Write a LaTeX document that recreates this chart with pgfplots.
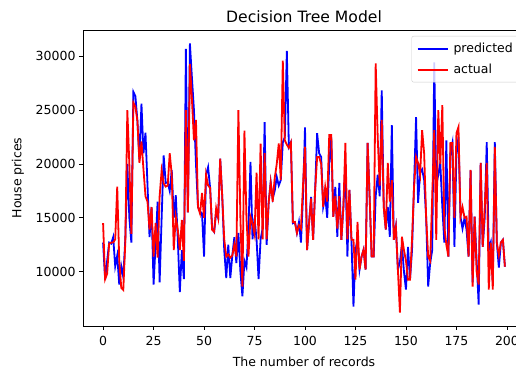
\documentclass[border=0pt]{standalone}
\usepackage{pgfplots}
\pgfplotsset{compat=1.18}
\usepackage{pgfplotstable}
\usepackage{fontspec}
\setmainfont{DejaVu Sans}

\pgfplotstableread[row sep=\\]{
P A\\
12700 14500\\ 9300 9300\\ 11000 9800\\ 12700 12600\\ 12600 12700\\ 13200 12700\\ 10500 13000\\ 11500 17900\\ 8800 11000\\ 10500 8500\\
9500 8300\\ 13000 12700\\ 20000 25000\\ 15000 20000\\ 12700 13500\\ 26700 25700\\ 26300 25300\\ 24000 24000\\ 20400 20100\\ 25600 22100\\
21000 19500\\ 22900 17000\\ 18000 16500\\ 13200 13900\\ 16000 16000\\ 8800 11400\\ 12500 14500\\ 16500 11300\\ 9000 17000\\ 15000 19400\\
20800 18200\\ 18240 17900\\ 18300 18000\\ 17500 21000\\ 19450 19000\\ 15000 12000\\ 17100 15100\\ 13000 13900\\ 8100 12000\\ 12000 14800\\
9300 11000\\ 30700 25000\\ 15500 15500\\ 31200 29300\\ 28000 26000\\ 25000 22200\\ 20000 24100\\ 16000 16000\\ 15600 15400\\ 15400 17300\\
11400 15000\\ 19000 19000\\ 19700 18000\\ 17800 17800\\ 14000 13900\\ 13700 13700\\ 15500 15900\\ 15000 15000\\ 20500 20500\\ 17000 17000\\
12000 13000\\ 9400 11400\\ 12500 11600\\ 9400 11300\\ 11500 11500\\ 13200 12500\\ 10800 11400\\ 13600 25000\\ 10000 15000\\ 7700 8600\\
11000 23100\\ 10400 15000\\ 14000 11400\\ 20200 15100\\ 13000 14500\\ 15000 13500\\ 13000 19200\\ 9300 13000\\ 13000 21900\\ 14000 13000\\
23900 21000\\ 12500 13000\\ 16400 16400\\ 18300 18300\\ 16800 16500\\ 17500 18700\\ 18800 20000\\ 18000 21900\\ 18500 18500\\ 22000 29600\\
22500 22200\\ 30500 21800\\ 21600 21500\\ 22000 22000\\ 14500 14600\\ 14600 14600\\ 13600 13600\\ 14600 14300\\ 12700 14000\\ 17000 18000\\
23400 21600\\ 12000 12000\\ 14500 14500\\ 16950 16800\\ 12960 12960\\ 17500 17500\\ 22870 20650\\ 21000 20650\\ 20650 20000\\ 16020 16020\\
17000 17870\\ 15000 16500\\ 20000 22690\\ 22500 22690\\ 15100 15100\\ 17870 17000\\ 13240 14000\\ 18240 17000\\ 12960 12960\\ 16000 16000\\
20000 21950\\ 11400 13000\\ 17600 17600\\ 12960 12960\\ 6760 12960\\ 12000 9260\\ 13000 14630\\ 10190 10190\\ 11400 11400\\ 12040 12040\\
10190 10190\\ 21950 21950\\ 16950 16950\\ 11400 11400\\ 11400 11400\\ 17000 29350\\ 19000 22500\\ 17000 18000\\ 26850 24100\\ 16020 16000\\
13900 13900\\ 16000 20100\\ 13240 16500\\ 23600 18500\\ 12960 12960\\ 14170 14170\\ 10190 10190\\ 10900 6200\\ 12500 13240\\ 10000 12000\\
8330 11000\\ 12300 9260\\ 9260 9260\\ 12000 13000\\ 18000 17870\\ 24350 20650\\ 16390 20100\\ 19170 19000\\ 19500 23150\\ 18500 21000\\
15000 15000\\ 8610 11400\\ 10830 11000\\ 12000 17000\\ 29450 23150\\ 18000 12960\\ 19000 25000\\ 20100 20000\\ 16000 25460\\ 12700 14170\\
22200 12500\\ 11400 11400\\ 21000 21950\\ 21950 21950\\ 12300 15000\\ 21000 22870\\ 22500 23430\\ 15100 15100\\ 14000 16000\\ 15000 15000\\
13900 15100\\ 11400 11400\\ 19400 19450\\ 9000 8610\\ 15100 15100\\ 11000 10000\\ 6940 8800\\ 20100 20100\\ 12300 12300\\ 15000 16000\\
22040 20100\\ 12000 8330\\ 12700 12700\\ 9000 8330\\ 22040 21580\\ 12700 12700\\ 10370 11500\\ 12700 12700\\ 12960 12960\\ 10460 10460\\
}\datatable

\begin{document}
\begin{tikzpicture}[x=1pt,y=1pt]
\begin{axis}[
  at={(83pt,45pt)}, anchor=south west,
  scale only axis, width=442pt, height=296pt,
  xmin=-9.95, xmax=208.95, ymin=4950, ymax=32450,
  xtick={0,25,...,200},
  ytick={10000,15000,20000,25000,30000},
  scaled y ticks=false,
  yticklabel style={/pgf/number format/.cd, fixed, 1000 sep={}},
  /pgf/number format/assume math mode=true,
  tick align=outside, xtick pos=bottom, ytick pos=left,
  major tick length=4pt,
  tick style={black, line width=0.8pt},
  axis line style={line width=0.8pt},
  ticklabel style={font=\fontsize{12.5}{15}\selectfont},
  xticklabel style={yshift=-3pt},
  title={Decision Tree Model},
  title style={font=\fontsize{15.6}{18}\selectfont, at={(axis description cs:0.5,1.025)}, anchor=center},
  xlabel={The number of records},
  xlabel style={font=\fontsize{12.5}{15}\selectfont, at={(axis description cs:0.5,-0.121)}, anchor=center},
  ylabel={House prices},
  ylabel style={font=\fontsize{12.5}{15}\selectfont, at={(axis description cs:-0.147,0.5)}, anchor=center},
  legend style={at={(axis description cs:1,1)}, anchor=north east, xshift=-5pt, yshift=-6pt,
    draw=black!20, fill=white, fill opacity=0.8, draw opacity=1, text opacity=1,
    rounded corners=2pt, font=\fontsize{12.5}{15}\selectfont,
    inner xsep=5pt, inner ysep=5pt, row sep=6pt, column sep=3pt},
  legend cell align=left,
  legend image code/.code={\draw[#1] (0pt,0pt) -- (30pt,0pt);},
]
\addplot[blue, line width=1.8pt] table[x expr=\coordindex, y=P] {\datatable};
\addlegendentry{predicted}
\addplot[red, line width=1.8pt] table[x expr=\coordindex, y=A] {\datatable};
\addlegendentry{actual}
\end{axis}
\pgfresetboundingbox
\useasboundingbox (0,0) rectangle (516,371);
\end{tikzpicture}
\end{document}
